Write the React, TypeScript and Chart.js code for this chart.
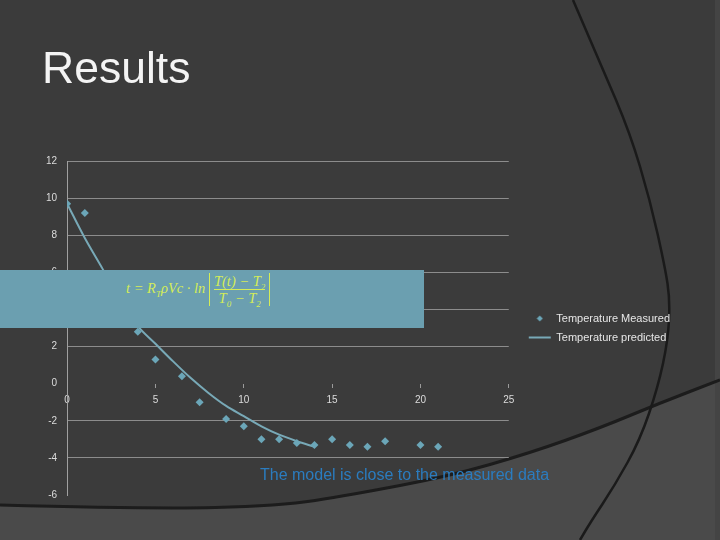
import React, { useEffect, useRef } from "react";
import { Chart, registerables } from "chart.js";

Chart.register(...registerables);

// ---- data ----
const measuredTime = [0, 1, 4, 5, 6.5, 7.5, 9, 10, 11, 12, 13, 14, 15, 16, 17, 18, 20, 21];
const measuredTemp = [9.7, 9.2, 2.8, 1.3, 0.4, -1.0, -1.9, -2.3, -3.0, -3.0, -3.2, -3.3, -3.0, -3.3, -3.4, -3.1, -3.3, -3.4];
const predictedTime = [0, 1, 2, 3, 4, 5, 6, 7, 8, 9, 10, 11, 12, 13, 14];
const predictedTemp = [9.7, 7.85, 6.2, 4.5, 3.1, 2.15, 1.2, 0.3, -0.5, -1.2, -1.75, -2.3, -2.75, -3.1, -3.4];
const seriesNames = ["Temperature Measured", "Temperature predicted"];
const xTickStep = 5;
const yTickStep = 2;

const FONT = "'Liberation Sans', Arial, sans-serif";
const BG = "#3b3b3b";
const POINT_COLOR = "#6ba6b8";
const LINE_COLOR = "#78a9b7";

const slideBackground = {
  id: "slideBackground",
  beforeDraw(chart: any) {
    const ctx = chart.ctx as CanvasRenderingContext2D;
    const w = chart.width;
    const h = chart.height;
    ctx.save();
    ctx.fillStyle = BG;
    ctx.fillRect(0, 0, w, h);

    const lower: [number, number][] = [
      [0, 505], [150, 509], [280, 506], [350, 495], [450, 476], [530, 453], [600, 428], [660, 403], [720, 380],
    ];
    const tracePts = (pts: [number, number][]) => {
      ctx.moveTo(pts[0][0], pts[0][1]);
      for (let i = 1; i < pts.length - 1; i++) {
        const mx = (pts[i][0] + pts[i + 1][0]) / 2;
        const my = (pts[i][1] + pts[i + 1][1]) / 2;
        ctx.quadraticCurveTo(pts[i][0], pts[i][1], mx, my);
      }
      const last = pts[pts.length - 1];
      ctx.lineTo(last[0], last[1]);
    };
    ctx.beginPath();
    tracePts(lower);
    ctx.lineTo(w, h);
    ctx.lineTo(0, h);
    ctx.closePath();
    ctx.fillStyle = "#4a4a4a";
    ctx.fill();

    ctx.fillStyle = "#444444";
    ctx.fillRect(715, 0, w - 715, h);

    ctx.beginPath();
    tracePts(lower);
    ctx.strokeStyle = "#1c1c1c";
    ctx.lineWidth = 3;
    ctx.stroke();

    const arc: [number, number][] = [
      [573, 0], [602, 67], [630, 133], [650, 200], [665, 267], [670, 300], [668, 340], [658, 387], [640, 440], [615, 485], [590, 523], [580, 540],
    ];
    ctx.beginPath();
    tracePts(arc);
    ctx.strokeStyle = "#1a1a1a";
    ctx.lineWidth = 2.5;
    ctx.stroke();
    ctx.restore();
  },
};

export default function App() {
  const canvasRef = useRef<HTMLCanvasElement | null>(null);

  useEffect(() => {
    if (!canvasRef.current) return;
    Chart.defaults.font.family = FONT;

    const diamond = document.createElement("canvas");
    diamond.width = 7;
    diamond.height = 7;
    const dctx = diamond.getContext("2d")!;
    dctx.fillStyle = POINT_COLOR;
    dctx.beginPath();
    dctx.moveTo(3.5, 0.5);
    dctx.lineTo(6.5, 3.5);
    dctx.lineTo(3.5, 6.5);
    dctx.lineTo(0.5, 3.5);
    dctx.closePath();
    dctx.fill();

    const chart = new Chart(canvasRef.current, {
      type: "scatter",
      data: {
        datasets: [
          {
            label: seriesNames[0],
            data: measuredTime.map((t, i) => ({ x: t, y: measuredTemp[i] })),
            pointStyle: "rectRot",
            pointRadius: 4,
            backgroundColor: POINT_COLOR,
            borderColor: POINT_COLOR,
            borderWidth: 0,
            showLine: false,
            order: 0,
          },
          {
            label: seriesNames[1],
            data: predictedTime.map((t, i) => ({ x: t, y: predictedTemp[i] })),
            showLine: true,
            pointRadius: 0,
            pointStyle: "line",
            borderColor: LINE_COLOR,
            backgroundColor: LINE_COLOR,
            borderWidth: 2,
            cubicInterpolationMode: "monotone",
            order: 1,
          } as any,
        ],
      },
      options: {
        animation: false,
        responsive: true,
        maintainAspectRatio: false,
        layout: { padding: { left: 36, top: 161, right: 40, bottom: 45 } },
        scales: {
          x: {
            type: "linear",
            position: { y: 0 } as any,
            min: 0,
            max: 25,
            ticks: { stepSize: xTickStep, color: "#dcdcdc", font: { size: 10 }, padding: 7 },
            grid: { drawOnChartArea: false, drawTicks: true, tickLength: 4, color: "#9a9a9a" },
            border: { display: false },
          },
          y: {
            type: "linear",
            min: -6,
            max: 12,
            ticks: { stepSize: yTickStep, color: "#dcdcdc", font: { size: 10 }, padding: 10 },
            grid: {
              drawTicks: false,
              color: (c: any) =>
                c.tick && (c.tick.value === 0 || c.tick.value === -6) ? "rgba(0,0,0,0)" : "#8c8c8c",
            },
            border: { display: true, color: "#a0a0a0" },
          },
          gap: {
            type: "linear",
            position: "right",
            display: true,
            grid: { display: false },
            ticks: { display: false },
            border: { display: false },
            afterFit: (s: any) => {
              s.width = 12;
            },
          } as any,
        },
        plugins: {
          legend: {
            position: "right",
            maxWidth: 220,
            labels: {
              color: "#e6e6e6",
              font: { size: 11 },
              usePointStyle: true,
              pointStyleWidth: 22,
              padding: 8,
              generateLabels: (c: any) => {
                const items = (Chart.defaults.plugins.legend.labels as any).generateLabels(c);
                if (items[0]) items[0].pointStyle = diamond;
                if (items[1]) {
                  items[1].pointStyle = "line";
                  items[1].lineWidth = 2;
                  items[1].strokeStyle = LINE_COLOR;
                }
                return items;
              },
            },
          } as any,
          tooltip: { enabled: false },
        },
      },
      plugins: [slideBackground],
    });
    return () => chart.destroy();
  }, []);

  const formulaColor = "#d4ec58";
  const serif = "'Liberation Serif', 'Times New Roman', serif";

  return (
    <div
      style={{
        position: "absolute",
        left: 0,
        top: 0,
        width: 720,
        height: 540,
        overflow: "hidden",
        background: BG,
      }}
    >
      <canvas ref={canvasRef} style={{ position: "absolute", left: 0, top: 0, width: 720, height: 540 }} />
      <div
        style={{
          position: "absolute",
          left: 42,
          top: 46,
          fontFamily: FONT,
          fontSize: 44.5,
          lineHeight: 1,
          color: "#f4f4f4",
          whiteSpace: "nowrap",
        }}
      >
        Results
      </div>
      <div
        style={{
          position: "absolute",
          left: 0,
          top: 270,
          width: 424,
          height: 58,
          background: "#6b9fb0",
        }}
      >
        <div
          style={{
            position: "absolute",
            left: 126,
            top: 1,
            height: 36,
            display: "flex",
            alignItems: "center",
            fontFamily: serif,
            fontStyle: "italic",
            fontSize: 14.5,
            color: formulaColor,
            whiteSpace: "nowrap",
          }}
        >
          <span>
            t = R<sub style={{ fontSize: 9 }}>T</sub>ρVc · ln&nbsp;
          </span>
          <span
            style={{
              display: "inline-flex",
              flexDirection: "column",
              alignItems: "center",
              borderLeft: `1.5px solid ${formulaColor}`,
              borderRight: `1.5px solid ${formulaColor}`,
              padding: "0 4px",
              lineHeight: "16px",
            }}
          >
            <span>
              T(t) − T<sub style={{ fontSize: 9, lineHeight: 0 }}>2</sub>
            </span>
            <span style={{ borderTop: `1px solid ${formulaColor}`, alignSelf: "stretch", textAlign: "center" }}>
              T<sub style={{ fontSize: 9, lineHeight: 0 }}>0</sub> − T<sub style={{ fontSize: 9, lineHeight: 0 }}>2</sub>
            </span>
          </span>
        </div>
      </div>
      <div
        style={{
          position: "absolute",
          left: 260,
          top: 467,
          fontFamily: FONT,
          fontSize: 16,
          lineHeight: 1,
          color: "#2b7cbf",
          whiteSpace: "nowrap",
        }}
      >
        The model is close to the measured data
      </div>
    </div>
  );
}
